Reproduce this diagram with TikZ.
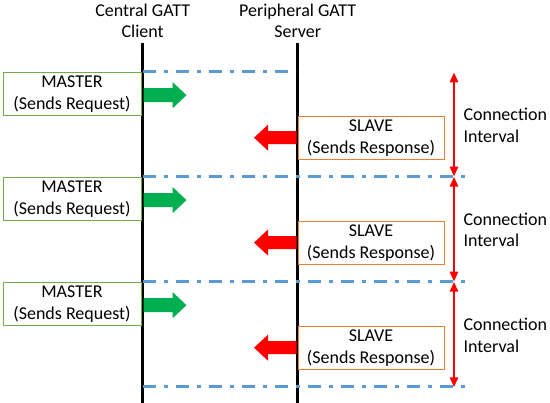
\documentclass[tikz,border=0pt]{standalone}
\usepackage{fontspec}
\setmainfont{Carlito}
\usetikzlibrary{arrows.meta}
\definecolor{boxgreen}{RGB}{112,173,71}
\definecolor{arrgreen}{RGB}{0,176,80}
\definecolor{boxorange}{RGB}{237,125,49}
\definecolor{dashblue}{RGB}{91,155,213}
\begin{document}
\begin{tikzpicture}[x=1pt,y=-1pt,
  txt/.style={font=\fontsize{18}{21.7}\selectfont,align=center,inner sep=0pt},
  masterbox/.style={txt,draw=boxgreen,line width=1pt,fill=white,minimum width=138pt,minimum height=43.5pt},
  slavebox/.style={txt,draw=boxorange,line width=1pt,fill=white,minimum width=146pt,minimum height=43.5pt},
  lifeline/.style={line width=2.7pt,black},
  cidash/.style={dashblue,line width=3pt,dash pattern=on 13pt off 8pt on 4pt off 8pt},
  interval/.style={red,line width=2.6pt,{Triangle[length=10pt,width=8pt]}-{Triangle[length=10pt,width=8pt]}},
  reqarrow/.style={fill=arrgreen},
  resparrow/.style={fill=red}]
\useasboundingbox (0,0) rectangle (550,403);

% titles
\node[txt,anchor=base] (ct1) at (142.7,16.7) {Central GATT};
\node[txt,anchor=base] (ct2) at (142.7,37.5) {Client};
\node[txt,anchor=base] (pt1) at (297.7,16.7) {Peripheral GATT};
\node[txt,anchor=base] (pt2) at (297.7,37.5) {Server};

% lifelines
\coordinate (ctop) at (142.7,43);
\coordinate (cbot) at (142.7,403);
\coordinate (stop) at (297.7,43);
\coordinate (sbot) at (297.7,403);
\draw[lifeline] (ctop) -- (cbot);
\draw[lifeline] (stop) -- (sbot);

% blue separator lines
\coordinate (b0l) at (143,71.7);   \coordinate (b0r) at (296,71.7);
\coordinate (b1l) at (143,176.6);  \coordinate (b1r) at (470,176.6);
\coordinate (b2l) at (143,281.7);  \coordinate (b2r) at (470,281.7);
\coordinate (b3l) at (143,387.0);  \coordinate (b3r) at (470,387.0);
\draw[cidash] (b0l) -- (b0r);
\draw[cidash] (b1l) -- (b1r);
\draw[cidash] (b2l) -- (b2r);
\draw[cidash] (b3l) -- (b3r);

% interval arrows
\coordinate (i0) at (454,72.3);
\coordinate (i1) at (454,176.6);
\coordinate (i2) at (454,281.7);
\coordinate (i3) at (454,387.3);
\draw[interval] (i0) -- (i1);
\draw[interval] (i1) -- (i2);
\draw[interval] (i2) -- (i3);

\foreach \k/\L in {1/71.7,2/176.6,3/281.7}{
  \node[masterbox] (m\k) at (72,\L+22.5) {MASTER\\(Sends Request)};
  \node[slavebox] (s\k) at (371,\L+66.5) {SLAVE\\(Sends Response)};
  \node[txt,anchor=north west,align=left] (c\k) at (463.3,\L+36) {Connection\\Interval};
  % green request arrow
  \fill[reqarrow] (143.5,\L+16.5) -- (172.7,\L+16.5) -- (172.7,\L+10.5) -- (186.5,\L+23.5)
     -- (172.7,\L+36.5) -- (172.7,\L+30.5) -- (143.5,\L+30.5) -- cycle;
  % red response arrow
  \fill[resparrow] (296.5,\L+59.5) -- (268,\L+59.5) -- (268,\L+53) -- (254,\L+66)
     -- (268,\L+79) -- (268,\L+72.5) -- (296.5,\L+72.5) -- cycle;
}
\end{tikzpicture}
\end{document}
